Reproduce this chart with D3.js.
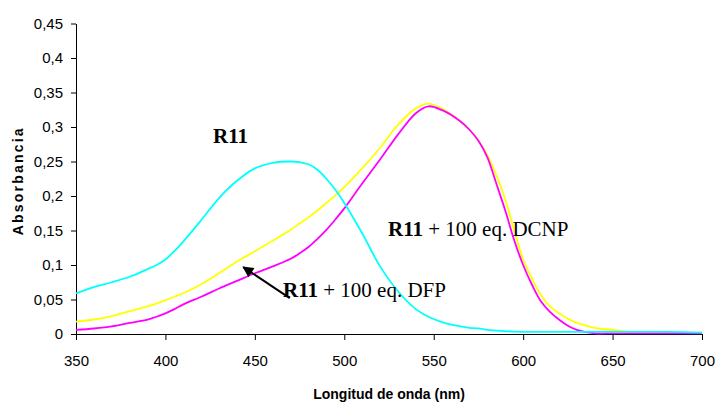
<!DOCTYPE html>
<html>
<head>
<meta charset="utf-8">
<script src="https://cdn.jsdelivr.net/npm/d3@7"></script>
<style>
  html, body { margin: 0; padding: 0; background: #fff; }
  svg { display: block; }
  .tick text { font-family: Arial, "Liberation Sans", sans-serif; font-size: 15px; fill: #000; }
</style>
</head>
<body>
<svg id="chart" width="717" height="404"></svg>
<script>
// Wavelengths (nm) at which the three spectra are sampled
const wavelengths = [350, 360, 370, 380, 390, 395, 400, 405, 410, 420, 430, 440, 450, 460, 470, 475, 480,
  485, 490, 495, 500, 510, 520, 530, 540, 547, 555, 565, 570, 575, 580, 585, 590, 595, 600, 605, 610,
  615, 620, 625, 630, 640, 650, 660, 680, 700];

// R11 alone
const r11 = [0.059, 0.068, 0.075, 0.083, 0.094, 0.100, 0.108, 0.120, 0.134, 0.165, 0.197, 0.222, 0.240,
  0.248, 0.250, 0.249, 0.246, 0.238, 0.225, 0.209, 0.190, 0.146, 0.098, 0.062, 0.036, 0.025, 0.017,
  0.011, 0.009, 0.008, 0.006, 0.005, 0.004, 0.0035, 0.003, 0.003, 0.003, 0.003, 0.003, 0.003, 0.003,
  0.003, 0.003, 0.003, 0.003, 0.002];

// R11 + 100 eq. DCNP
const r11Dcnp = [0.018, 0.021, 0.026, 0.033, 0.040, 0.044, 0.049, 0.054, 0.059, 0.072, 0.088, 0.105,
  0.120, 0.135, 0.151, 0.160, 0.169, 0.179, 0.190, 0.201, 0.213, 0.240, 0.270, 0.303, 0.327, 0.334,
  0.326, 0.308, 0.296, 0.280, 0.259, 0.230, 0.195, 0.150, 0.108, 0.080, 0.056, 0.040, 0.030, 0.022,
  0.016, 0.009, 0.006, 0.003, 0.002, 0.002];

// R11 + 100 eq. DFP
const r11Dfp = [0.006, 0.008, 0.011, 0.016, 0.021, 0.025, 0.030, 0.036, 0.043, 0.054, 0.066, 0.077,
  0.088, 0.098, 0.109, 0.117, 0.126, 0.138, 0.151, 0.166, 0.182, 0.218, 0.253, 0.289, 0.320, 0.330,
  0.324, 0.308, 0.296, 0.280, 0.256, 0.218, 0.179, 0.136, 0.100, 0.071, 0.047, 0.032, 0.021, 0.012,
  0.006, 0.001, 0.001, 0.001, 0.001, 0.001];

const xTicks = [350, 400, 450, 500, 550, 600, 650, 700];
const yTicks = [0, 0.05, 0.1, 0.15, 0.2, 0.25, 0.3, 0.35, 0.4, 0.45];

const series = [
  { name: "R11 + 100 eq. DCNP", values: r11Dcnp, color: "#ffff00" },
  { name: "R11 + 100 eq. DFP", values: r11Dfp, color: "#ff00ff" },
  { name: "R11", values: r11, color: "#00ffff" }
];

const svg = d3.select("#chart");
const plot = { left: 76, right: 702, top: 23.5, bottom: 334 };

const x = d3.scaleLinear().domain([350, 700]).range([plot.left, plot.right]);
const y = d3.scaleLinear().domain([0, 0.45]).range([plot.bottom, plot.top]);

const fmt = v => (v === 0 ? "0" : d3.format("~g")(+v.toFixed(2)).replace(".", ","));

// Y axis
const yAxis = svg.append("g")
  .attr("transform", `translate(${plot.left},0)`)
  .call(d3.axisLeft(y).tickValues(yTicks).tickFormat(fmt).tickSize(5).tickPadding(8).tickSizeOuter(0));
yAxis.selectAll("line, path").attr("stroke", "#000");

// X axis
const xAxis = svg.append("g")
  .attr("transform", `translate(0,${plot.bottom})`)
  .call(d3.axisBottom(x).tickValues(xTicks).tickFormat(d3.format("d")).tickSize(6).tickPadding(15).tickSizeOuter(0));
xAxis.selectAll("line, path").attr("stroke", "#000");

// Spectra
const line = d3.line()
  .x((d, i) => x(wavelengths[i]))
  .y(d => y(d))
  .curve(d3.curveCatmullRom.alpha(0.5));

svg.append("g").selectAll("path")
  .data(series)
  .join("path")
  .attr("d", d => line(d.values))
  .attr("fill", "none")
  .attr("stroke", d => d.color)
  .attr("stroke-width", 1.8);

// Axis titles
svg.append("text")
  .attr("x", (plot.left + plot.right) / 2)
  .attr("y", 399)
  .attr("text-anchor", "middle")
  .style("font-family", "Arial, 'Liberation Sans', sans-serif")
  .style("font-weight", "bold")
  .style("font-size", "14px")
  .text("Longitud de onda (nm)");

svg.append("text")
  .attr("transform", `translate(23,${(plot.top + plot.bottom) / 2 + 2}) rotate(-90)`)
  .attr("text-anchor", "middle")
  .style("font-family", "Arial, 'Liberation Sans', sans-serif")
  .style("font-weight", "bold")
  .style("font-size", "14px")
  .style("letter-spacing", "2.2px")
  .text("Absorbancia");

// Curve labels
const serif = "'Times New Roman', 'Liberation Serif', serif";
function curveLabel(px, py, rest) {
  const t = svg.append("text")
    .attr("x", px).attr("y", py)
    .style("font-family", serif)
    .style("font-size", "21px");
  t.append("tspan").style("font-weight", "bold").text("R11");
  if (rest) t.append("tspan").text(rest);
}
curveLabel(213, 143, "");
curveLabel(388, 236, " + 100 eq. DCNP");
curveLabel(283, 297, " + 100 eq. DFP");

// Arrow pointing at the DFP spectrum
svg.append("defs").append("marker")
  .attr("id", "arrowhead")
  .attr("viewBox", "0 0 10 10")
  .attr("refX", 9).attr("refY", 5)
  .attr("markerUnits", "userSpaceOnUse")
  .attr("markerWidth", 14).attr("markerHeight", 11)
  .attr("orient", "auto")
  .append("path")
  .attr("d", "M0,0 L10,5 L0,10 Z")
  .attr("fill", "#000");

svg.append("line")
  .attr("x1", x(469.5)).attr("y1", y(0.052))
  .attr("x2", x(443.5)).attr("y2", y(0.097))
  .attr("stroke", "#000")
  .attr("stroke-width", 2)
  .attr("marker-end", "url(#arrowhead)");
</script>
</body>
</html>
